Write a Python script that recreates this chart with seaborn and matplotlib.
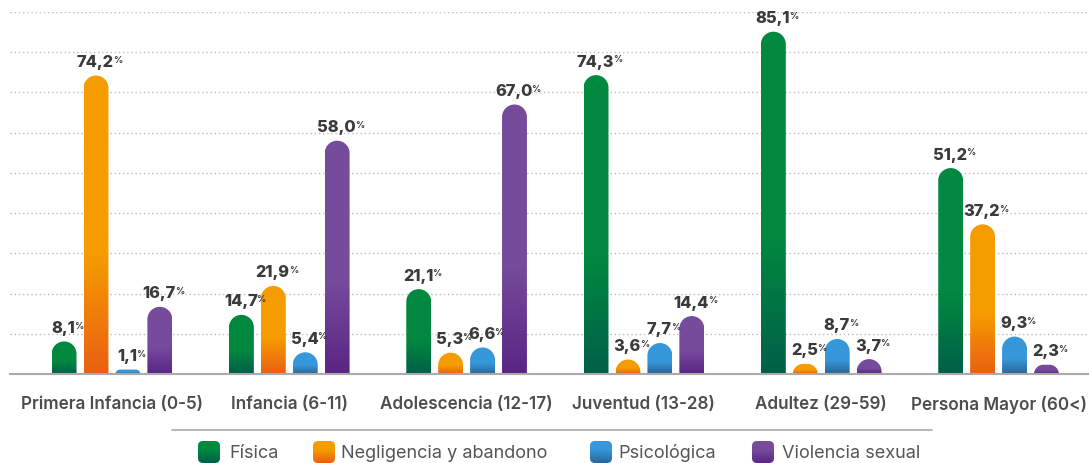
import numpy as np
import pandas as pd
import matplotlib
matplotlib.use("Agg")
import matplotlib.pyplot as plt
import seaborn as sns
from matplotlib.path import Path
from matplotlib.patches import PathPatch
from matplotlib.colors import LinearSegmentedColormap

# ---------------- data ----------------
categories = ["Primera Infancia (0-5)", "Infancia (6-11)", "Adolescencia (12-17)",
              "Juventud (13-28)", "Adultez (29-59)", "Persona Mayor (60<)"]
series = ["Física", "Negligencia y abandono", "Psicológica", "Violencia sexual"]
fisica = [8.1, 14.7, 21.1, 74.3, 85.1, 51.2]
negligencia = [74.2, 21.9, 5.3, 3.6, 2.5, 37.2]
psicologica = [1.1, 5.4, 6.6, 7.7, 8.7, 9.3]
violencia = [16.7, 58.0, 67.0, 14.4, 3.7, 2.3]

top_colors = ["#00893F", "#F59C00", "#3697DA", "#764B9C"]
bottom_colors = ["#005F48", "#EA5F12", "#2A6596", "#5A2584"]

values = [fisica, negligencia, psicologica, violencia]
rows = []
for s, vals in zip(series, values):
    for c, v in zip(categories, vals):
        rows.append({"grupo": c, "tipo": s, "valor": v})
df = pd.DataFrame(rows)

# ---------------- figure ----------------
sns.set_theme(style="white")
plt.rcParams["font.family"] = ["Inter", "DejaVu Sans"]

W, H = 1089, 463
fig = plt.figure(figsize=(W / 100, H / 100), dpi=100)
ax_left, ax_right, ax_top, ax_bot = 10, 1089, 12, 374
ax = fig.add_axes([ax_left / W, (H - ax_bot) / H, (ax_right - ax_left) / W, (ax_bot - ax_top) / H])

sns.barplot(data=df, x="grupo", y="valor", hue="tipo", order=categories, hue_order=series,
            palette=top_colors, width=0.72, gap=0.22, ax=ax, legend=False,
            errorbar=None, saturation=1)

xlo, xhi = -0.575, 5.51
ymax = 90
ax.set_xlim(xlo, xhi)
ax.set_ylim(0, ymax)
ax.set_yticks(np.arange(10, 91, 10))
ax.grid(axis="y", linestyle=(0, (1, 2)), color="#BDBDBD", linewidth=1)
ax.set_axisbelow(True)
ax.yaxis.set_ticklabels([])
ax.tick_params(axis="y", length=0)
ax.tick_params(axis="x", length=0, pad=16)
for sp in ["top", "right", "left"]:
    ax.spines[sp].set_visible(False)
ax.spines["bottom"].set_color("#AAAAAA")
ax.spines["bottom"].set_linewidth(1.5)
ax.spines["bottom"].set_zorder(5)
ax.set_xlabel("")
ax.set_ylabel("")
for lab in ax.get_xticklabels():
    lab.set_fontsize(12.3)
    lab.set_fontweight("semibold")
    lab.set_color("#4D4D4D")

px_x = (ax_right - ax_left) / (xhi - xlo)
px_y = (ax_bot - ax_top) / ymax
K = 0.5523


def rounded_top_path(x0, x1, h, rx, ry):
    verts = [(x0, 0), (x0, h - ry),
             (x0, h - ry + K * ry), (x0 + rx - K * rx, h), (x0 + rx, h),
             (x1 - rx, h),
             (x1 - rx + K * rx, h), (x1, h - ry + K * ry), (x1, h - ry),
             (x1, 0), (x0, 0)]
    codes = [Path.MOVETO, Path.LINETO,
             Path.CURVE4, Path.CURVE4, Path.CURVE4,
             Path.LINETO,
             Path.CURVE4, Path.CURVE4, Path.CURVE4,
             Path.LINETO, Path.CLOSEPOLY]
    return Path(verts, codes)


def make_cmap(bot, top, stop=0.4):
    return LinearSegmentedColormap.from_list("g", [(0, bot), (stop, top), (1, top)])


for i, cont in enumerate(ax.containers):
    cmap = make_cmap(bottom_colors[i], top_colors[i])
    grad = np.linspace(1, 0, 256).reshape(-1, 1)
    for bar in cont:
        x0 = bar.get_x()
        w = bar.get_width()
        h = bar.get_height()
        bar.set_visible(False)
        w_px = w * px_x
        h_px = h * px_y
        r_px = min(w_px / 2, h_px)
        path = rounded_top_path(x0, x0 + w, h, r_px / px_x, r_px / px_y)
        patch = PathPatch(path, facecolor="none", edgecolor="none", zorder=3)
        ax.add_patch(patch)
        im = ax.imshow(grad, cmap=cmap, vmin=0, vmax=1, extent=[x0, x0 + w, 0, h],
                       aspect="auto", zorder=3, interpolation="bilinear")
        im.set_clip_path(patch)
        t = ax.annotate(f"{h:.1f}".replace(".", ","), xy=(x0 + w / 2 - 0.004, h), xytext=(0, 4),
                        textcoords="offset points", ha="center", va="bottom",
                        fontsize=11.8, fontweight="heavy", color="#3A3A3A", zorder=6)
        ax.annotate("%", xy=(1, 1), xycoords=t, xytext=(-0.7, -0.5), textcoords="offset points",
                    ha="left", va="top", fontsize=6.5, fontweight="bold", color="#3A3A3A", zorder=6)

ax.set_xlim(xlo, xhi)
ax.set_ylim(0, ymax)

# ---------------- legend (overlay in pixel coords) ----------------
ov = fig.add_axes([0, 0, 1, 1])
ov.set_xlim(0, W)
ov.set_ylim(H, 0)
ov.axis("off")
ov.plot([172, 932], [430, 430], color="#AAAAAA", linewidth=1.2)
sq_x = [198, 313, 590, 752]
txt_x = [229, 341, 618, 782]
sq_w = 22
for i, s in enumerate(series):
    x0 = sq_x[i]
    y0 = 441
    y1 = 441 + sq_w
    r = 5
    verts = [(x0 + r, y0), (x0 + sq_w - r, y0), (x0 + sq_w, y0), (x0 + sq_w, y0 + r),
             (x0 + sq_w, y1 - r), (x0 + sq_w, y1), (x0 + sq_w - r, y1),
             (x0 + r, y1), (x0, y1), (x0, y1 - r),
             (x0, y0 + r), (x0, y0), (x0 + r, y0), (x0 + r, y0)]
    codes = [Path.MOVETO, Path.LINETO, Path.CURVE3, Path.CURVE3,
             Path.LINETO, Path.CURVE3, Path.CURVE3,
             Path.LINETO, Path.CURVE3, Path.CURVE3,
             Path.LINETO, Path.CURVE3, Path.CURVE3, Path.CLOSEPOLY]
    p = PathPatch(Path(verts, codes), facecolor="none", edgecolor="none")
    ov.add_patch(p)
    cmap = make_cmap(bottom_colors[i], top_colors[i], 0.6)
    im = ov.imshow(np.linspace(1, 0, 64).reshape(-1, 1), cmap=cmap, vmin=0, vmax=1,
                   extent=[x0, x0 + sq_w, y1, y0], aspect="auto", interpolation="bilinear")
    im.set_clip_path(p)
    ov.text(txt_x[i], 453, s, ha="left", va="center", fontsize=13, color="#555555")
ov.set_xlim(0, W)
ov.set_ylim(H, 0)

fig.savefig("out.png", dpi=100)
